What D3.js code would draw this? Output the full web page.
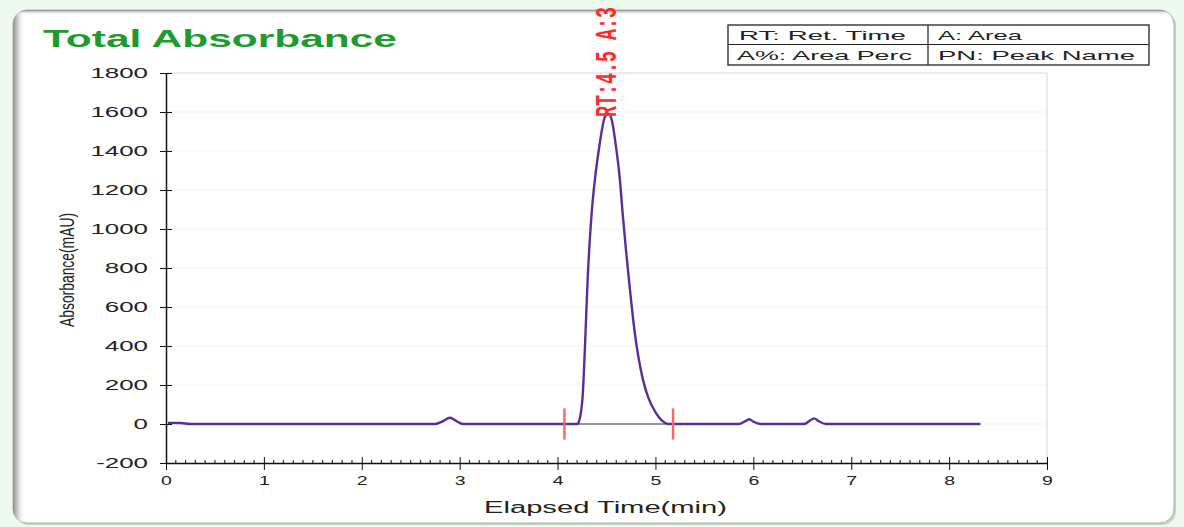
<!DOCTYPE html>
<html><head><meta charset="utf-8">
<script src="https://cdn.jsdelivr.net/npm/d3@7"></script>
<style>html,body{margin:0;padding:0;background:#eef9ee;}svg{display:block;}</style>
</head><body>
<svg id="chart" width="1184" height="527"></svg>
<script>
// ---- data ----
const times = [0.02,0.15,0.25,2.75,2.82,2.9,2.97,3.03,4.2,4.22,4.256,4.28,4.307,4.348,4.39,4.426,4.484,4.518,4.553,4.597,4.637,4.665,4.699,4.733,4.767,4.808,4.842,4.876,4.927,4.995,5.08,5.13,5.85,5.92,5.96,6.0,6.07,6.52,6.58,6.62,6.67,6.74,8.32];
const absorbance = [6,5,0,0,12,32,14,0,0,15,140,396,738,1080,1290,1422,1576,1593,1560,1422,1251,1080,892,721,560,400,300,220,135,65,12,0,0,15,24,12,0,0,18,29,14,0,0];
const xTicks = [0,1,2,3,4,5,6,7,8,9];
const yTicks = [-200,0,200,400,600,800,1000,1200,1400,1600,1800];
const peakTime = 4.515, peakValue = 1590;
const peakLabel = "RT:4.5 A:3";
const peakMarkers = [4.07, 5.18];
const peakBaseline = [4.2, 5.12];
const legendRows = [["RT: Ret. Time","A: Area"],["A%: Area Perc","PN: Peak Name"]];
const titleText = "Total Absorbance";
const xLabel = "Elapsed Time(min)";
const yLabel = "Absorbance(mAU)";

const svg = d3.select("#chart");
const L = 166, R = 1047, T = 73, B = 463;
const x = d3.scaleLinear().domain([0,9]).range([L,R]);
const y = d3.scaleLinear().domain([-200,1800]).range([B,T]);

function stretch(sel, f){ sel.each(function(){ const w=this.getComputedTextLength(); this.setAttribute("textLength", w*f); this.setAttribute("lengthAdjust","spacingAndGlyphs"); }); }
function fitTo(sel, len){ sel.attr("textLength", len).attr("lengthAdjust","spacingAndGlyphs"); }

// background + card
const defs = svg.append("defs");
const g1 = defs.append("linearGradient").attr("id","lsh").attr("x1",0).attr("x2",1).attr("y1",0).attr("y2",0);
g1.append("stop").attr("offset",0).attr("stop-color","#8e8e8e");
g1.append("stop").attr("offset",0.4).attr("stop-color","#d0d0d0");
g1.append("stop").attr("offset",1).attr("stop-color","#ffffff").attr("stop-opacity",0);
const g2 = defs.append("linearGradient").attr("id","tsh").attr("x1",0).attr("x2",0).attr("y1",0).attr("y2",1);
g2.append("stop").attr("offset",0).attr("stop-color","#8a8a8a");
g2.append("stop").attr("offset",1).attr("stop-color","#ffffff").attr("stop-opacity",0);
defs.append("clipPath").attr("id","card").append("rect").attr("x",13).attr("y",10).attr("width",1161).attr("height",513).attr("rx",14);

svg.append("rect").attr("width",1184).attr("height",527).attr("fill","#eef9ee");
svg.append("rect").attr("x",15).attr("y",12).attr("width",1161).attr("height",513).attr("rx",14).attr("fill","#c3d2c3");
svg.append("rect").attr("x",13).attr("y",10).attr("width",1161).attr("height",513).attr("rx",14).attr("fill","#ffffff").attr("stroke","#b0b0b0").attr("stroke-width",1);
const cg = svg.append("g").attr("clip-path","url(#card)");
cg.append("rect").attr("x",13).attr("y",10).attr("width",12).attr("height",513).attr("fill","url(#lsh)");
cg.append("rect").attr("x",13).attr("y",10).attr("width",1161).attr("height",5).attr("fill","url(#tsh)");

// title
svg.append("text").attr("x",43).attr("y",47).text(titleText)
  .attr("font-family","Liberation Sans, Arial, sans-serif").attr("font-size",24).attr("font-weight","bold")
  .attr("fill","#1f9a2f").call(fitTo,354);

// legend table
const lg = svg.append("g");
lg.append("rect").attr("x",728).attr("y",25).attr("width",421).attr("height",40).attr("fill","#fff").attr("stroke","#222").attr("stroke-width",1.3);
lg.append("line").attr("x1",728).attr("x2",1149).attr("y1",44.5).attr("y2",44.5).attr("stroke","#222").attr("stroke-width",1.2);
lg.append("line").attr("x1",928).attr("x2",928).attr("y1",25).attr("y2",65).attr("stroke","#222").attr("stroke-width",1.2);
const legendX = [[739,938],[737,938]], legendW = [[167,84],[175,197]], legendY=[40,60];
legendRows.forEach((row,i)=>row.forEach((t,j)=>{
  lg.append("text").attr("x",legendX[i][j]).attr("y",legendY[i]).text(t)
    .attr("font-family","Liberation Sans, Arial, sans-serif").attr("font-size",13).attr("fill","#222")
    .call(fitTo, legendW[i][j]);
}));

// plot frame + grid
svg.append("g").selectAll("line").data(yTicks.filter(d=>d>-200&&d<1800)).join("line")
  .attr("x1",L).attr("x2",R).attr("y1",d=>y(d)).attr("y2",d=>y(d)).attr("stroke","#f3f3f3");
svg.append("path").attr("d",`M${L},${T}H${R}V${B}`).attr("fill","none").attr("stroke","#d6d6d6");

// axes
const yAxis = svg.append("g").attr("transform",`translate(${L},0)`)
  .call(d3.axisLeft(y).tickValues(yTicks).tickSizeInner(6).tickSizeOuter(0).tickPadding(12).tickFormat(d=>String(d)));
yAxis.select(".domain").attr("stroke","#111").attr("stroke-width",1.5);
yAxis.selectAll(".tick line").attr("x1",6).attr("stroke","#111");
yAxis.selectAll(".tick text").attr("font-family","Liberation Sans, Arial, sans-serif").attr("font-size",14).attr("fill","#222").call(stretch,1.85);

const minor = d3.range(0,90).map(i=>i/10).filter(v=>Math.abs(v-Math.round(v))>1e-6);
svg.append("g").selectAll("line").data(minor).join("line")
  .attr("x1",d=>x(d)).attr("x2",d=>x(d)).attr("y1",B-3).attr("y2",B).attr("stroke","#333").attr("stroke-width",1.2);
const xAxis = svg.append("g").attr("transform",`translate(0,${B})`)
  .call(d3.axisBottom(x).tickValues(xTicks).tickSizeInner(7).tickSizeOuter(0).tickPadding(6).tickFormat(d=>String(d)));
xAxis.select(".domain").attr("stroke","#111").attr("stroke-width",1.5);
xAxis.selectAll(".tick line").attr("y1",-6).attr("stroke","#111");
xAxis.selectAll(".tick text").attr("font-family","Liberation Sans, Arial, sans-serif").attr("font-size",13).attr("fill","#222").call(stretch,1.5);

// axis labels
svg.append("text").attr("transform","translate(74,270) scale(1.5,1) rotate(-90)").attr("text-anchor","middle")
  .text(yLabel).attr("font-family","Liberation Sans, Arial, sans-serif").attr("font-size",14).attr("fill","#222").call(fitTo,114);
svg.append("text").attr("x",484).attr("y",513).text(xLabel)
  .attr("font-family","Liberation Sans, Arial, sans-serif").attr("font-size",16).attr("fill","#222").call(fitTo,243);

// trace
const pts = times.map((t,i)=>[t,absorbance[i]]);
svg.append("path").datum(pts).attr("fill","none").attr("stroke","#5a2e98").attr("stroke-width",2.4).attr("stroke-linejoin","round")
  .attr("d", d3.line().x(d=>x(d[0])).y(d=>y(d[1])).curve(d3.curveMonotoneX));
// integration baseline
svg.append("line").attr("x1",x(peakBaseline[0])).attr("x2",x(peakBaseline[1])).attr("y1",y(0)).attr("y2",y(0)).attr("stroke","#333").attr("stroke-width",1);
// peak markers
svg.append("g").selectAll("line").data(peakMarkers).join("line")
  .attr("x1",d=>x(d)).attr("x2",d=>x(d)).attr("y1",y(80)).attr("y2",y(-80)).attr("stroke","#f26a6a").attr("stroke-width",2.5);
// peak label
svg.append("text").attr("transform",`translate(${x(peakTime)+8},${y(peakValue)+3}) scale(1.6,1) rotate(-90)`)
  .text(peakLabel).attr("font-family","Liberation Mono, DejaVu Sans Mono, monospace").attr("font-size",18).attr("font-weight","bold").attr("fill","#ff2a2a")
  .call(fitTo,110);
</script>
</body></html>
